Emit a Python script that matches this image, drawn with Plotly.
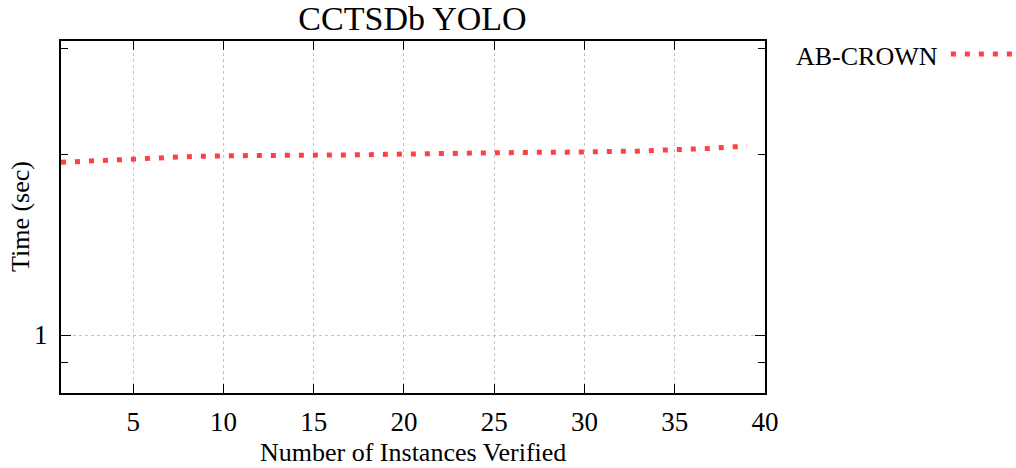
import plotly.graph_objects as go

# ---- data ----
instances = list(range(1, 40))
ab_crown_time = [1.938, 1.941, 1.947, 1.956, 1.961, 1.971, 1.975, 1.980, 1.986, 1.987,
                 1.988, 1.988, 1.991, 1.993, 1.993, 1.993, 1.995, 1.995, 1.998, 1.998,
                 2.001, 2.002, 2.006, 2.008, 2.012, 2.014, 2.015, 2.015, 2.015, 2.016,
                 2.016, 2.020, 2.023, 2.029, 2.033, 2.039, 2.044, 2.055, 2.061]
series_name = "AB-CROWN"
x_ticks = [5, 10, 15, 20, 25, 30, 35, 40]
y_major = [1]
y_major_text = ["1"]
y_minor = [0.9, 2, 3]

FONT = "Liberation Serif"
RED = "rgb(255,64,64)"
DASH = "5px,9px"
GRID = "#c4c4c4"
TICK_SIZE = 27
LABEL_SIZE = 26

fig = go.Figure()
fig.add_trace(go.Scatter(
    x=instances, y=ab_crown_time, mode="lines", name=series_name,
    line=dict(color=RED, width=5, dash=DASH), showlegend=False,
))

fig.update_layout(
    width=1016, height=468,
    margin=dict(l=61, r=251, t=41, b=75, autoexpand=False),
    paper_bgcolor="white", plot_bgcolor="white",
    font=dict(family=FONT, size=LABEL_SIZE, color="black"),
    title=dict(text="CCTSDb YOLO", x=0.406, xanchor="center", y=0.962, yanchor="middle",
               font=dict(family=FONT, size=34, color="black"), automargin=False),
)

fig.update_xaxes(
    range=[1, 40], tickmode="array", tickvals=x_ticks,
    ticks="inside", ticklen=9, tickwidth=1, tickcolor="black",
    showline=True, linecolor="black", linewidth=2, mirror="allticks",
    showgrid=True, gridcolor=GRID, griddash="dot", gridwidth=1,
    zeroline=False, automargin=False, ticklabelstandoff=4,
    tickfont=dict(family=FONT, size=TICK_SIZE, color="black"),
)

fig.update_yaxes(
    type="log", range=[-0.0965, 0.4892],
    tickmode="array", tickvals=y_major, ticktext=y_major_text,
    ticks="inside", ticklen=10, tickwidth=1, tickcolor="black",
    showline=True, linecolor="black", linewidth=2, mirror="allticks",
    showgrid=True, gridcolor=GRID, griddash="dot", gridwidth=1,
    zeroline=False, automargin=False, ticklabelstandoff=6,
    tickfont=dict(family=FONT, size=TICK_SIZE, color="black"),
    minor=dict(tickmode="array", tickvals=y_minor, ticks="inside", ticklen=7,
               tickwidth=1, tickcolor="black", showgrid=False),
)

# axis titles
fig.add_annotation(text="Number of Instances Verified", xref="paper", yref="paper",
                   x=0.5, y=0, xanchor="center", yanchor="middle", yshift=-59,
                   showarrow=False, font=dict(family=FONT, size=LABEL_SIZE, color="black"))
fig.add_annotation(text="Time (sec)", xref="paper", yref="paper",
                   x=0, y=0.5, xanchor="center", yanchor="middle", xshift=-41,
                   textangle=-90, showarrow=False,
                   font=dict(family=FONT, size=LABEL_SIZE, color="black"))

# legend drawn gnuplot-style: label text, then line sample on the right
fig.add_annotation(text=series_name, xref="paper", yref="paper",
                   x=1.2486, y=0.957, xanchor="right", yanchor="middle",
                   showarrow=False, font=dict(family=FONT, size=LABEL_SIZE, color="black"))
fig.add_shape(type="line", xref="paper", yref="paper",
              x0=1.264, x1=1.353, y0=0.963, y1=0.963,
              line=dict(color=RED, width=5, dash=DASH))

fig.write_html("out.html", config={"displayModeBar": False},
               post_script="document.body.style.margin='0';")
